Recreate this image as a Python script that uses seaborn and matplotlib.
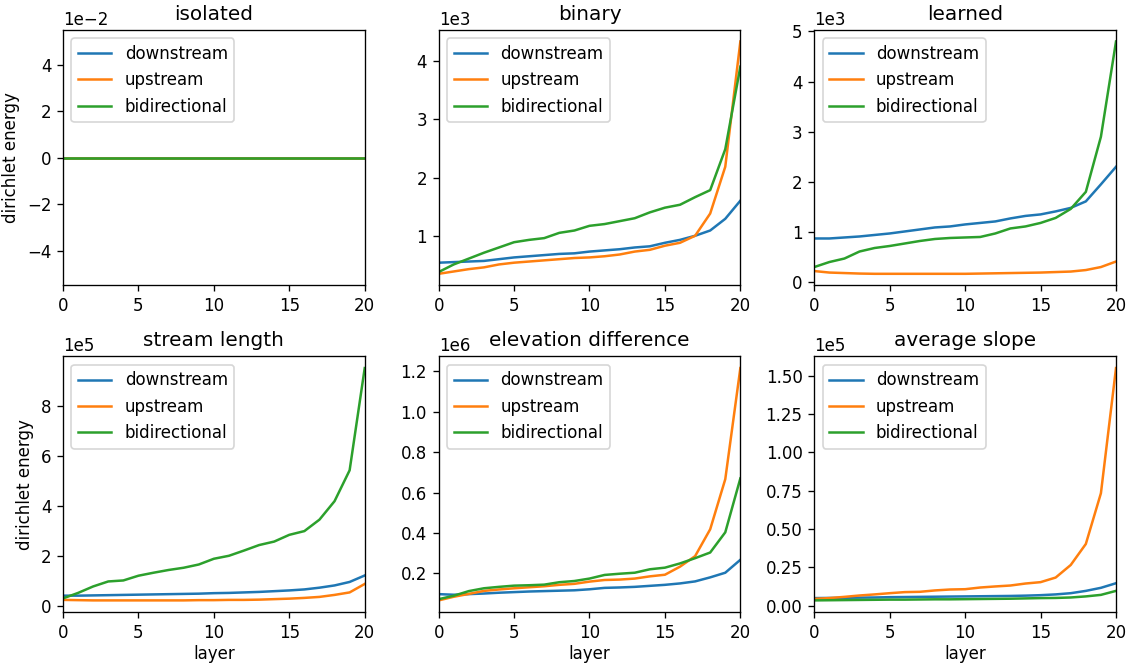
import numpy as np
import pandas as pd
import seaborn as sns
import matplotlib
matplotlib.use("Agg")
import matplotlib.pyplot as plt

layers = list(range(21))
directions = ["downstream", "upstream", "bidirectional"]
titles = ["isolated", "binary", "learned", "stream length", "elevation difference", "average slope"]
# every panel's values are written in the unit shown by its offset label
scales = [1e-2, 1e3, 1e3, 1e5, 1e6, 1e5]

isolated_down = [0.0] * 21
isolated_up = [0.0] * 21
isolated_bi = [0.0] * 21

binary_down = [0.55, 0.56, 0.57, 0.58, 0.61, 0.64, 0.66, 0.68, 0.70, 0.71, 0.74,
               0.76, 0.78, 0.81, 0.83, 0.89, 0.94, 1.01, 1.10, 1.30, 1.61]
binary_up = [0.36, 0.40, 0.44, 0.47, 0.52, 0.55, 0.57, 0.59, 0.61, 0.63, 0.64,
             0.66, 0.69, 0.74, 0.77, 0.84, 0.89, 1.01, 1.39, 2.19, 4.33]
binary_bi = [0.39, 0.52, 0.62, 0.72, 0.81, 0.90, 0.94, 0.97, 1.06, 1.10, 1.18,
             1.21, 1.26, 1.31, 1.41, 1.49, 1.54, 1.67, 1.79, 2.49, 3.90]

learned_down = [0.87, 0.87, 0.89, 0.91, 0.94, 0.97, 1.01, 1.05, 1.09, 1.11, 1.15,
                1.18, 1.21, 1.27, 1.32, 1.35, 1.41, 1.48, 1.61, 1.95, 2.30]
learned_up = [0.22, 0.19, 0.18, 0.17, 0.165, 0.165, 0.165, 0.165, 0.165, 0.165, 0.165,
              0.17, 0.175, 0.18, 0.185, 0.19, 0.20, 0.21, 0.24, 0.30, 0.41]
learned_bi = [0.30, 0.40, 0.47, 0.61, 0.68, 0.72, 0.77, 0.82, 0.86, 0.88, 0.89,
              0.90, 0.97, 1.07, 1.11, 1.18, 1.28, 1.46, 1.80, 2.90, 4.80]

length_down = [0.40, 0.40, 0.41, 0.42, 0.43, 0.44, 0.45, 0.46, 0.47, 0.48, 0.50,
               0.51, 0.53, 0.55, 0.58, 0.61, 0.65, 0.72, 0.81, 0.95, 1.21]
length_up = [0.23, 0.22, 0.21, 0.21, 0.21, 0.21, 0.21, 0.21, 0.21, 0.22, 0.22,
             0.23, 0.23, 0.24, 0.26, 0.28, 0.31, 0.35, 0.43, 0.53, 0.87]
length_bi = [0.29, 0.51, 0.77, 0.97, 1.01, 1.20, 1.32, 1.43, 1.52, 1.65, 1.88,
             2.00, 2.21, 2.43, 2.57, 2.84, 2.99, 3.45, 4.19, 5.43, 9.53]

elev_down = [0.097, 0.094, 0.097, 0.100, 0.104, 0.107, 0.110, 0.112, 0.114, 0.116, 0.121,
             0.128, 0.130, 0.133, 0.138, 0.143, 0.150, 0.160, 0.180, 0.203, 0.267]
elev_up = [0.066, 0.084, 0.098, 0.113, 0.120, 0.126, 0.131, 0.136, 0.143, 0.148, 0.159,
           0.167, 0.169, 0.174, 0.185, 0.193, 0.233, 0.285, 0.418, 0.666, 1.216]
elev_bi = [0.072, 0.089, 0.112, 0.126, 0.133, 0.139, 0.141, 0.144, 0.156, 0.162, 0.174,
           0.192, 0.198, 0.203, 0.220, 0.228, 0.249, 0.275, 0.303, 0.403, 0.670]

slope_down = [0.050, 0.051, 0.052, 0.053, 0.054, 0.056, 0.057, 0.058, 0.059, 0.060, 0.061,
              0.062, 0.063, 0.064, 0.066, 0.069, 0.074, 0.082, 0.097, 0.117, 0.147]
slope_up = [0.045, 0.050, 0.058, 0.067, 0.074, 0.082, 0.089, 0.091, 0.100, 0.106, 0.108,
            0.119, 0.126, 0.132, 0.145, 0.154, 0.184, 0.266, 0.403, 0.734, 1.550]
slope_bi = [0.035, 0.036, 0.037, 0.038, 0.039, 0.040, 0.040, 0.041, 0.042, 0.042, 0.043,
            0.044, 0.045, 0.046, 0.048, 0.050, 0.051, 0.054, 0.061, 0.071, 0.097]

panels = [
    (isolated_down, isolated_up, isolated_bi),
    (binary_down, binary_up, binary_bi),
    (learned_down, learned_up, learned_bi),
    (length_down, length_up, length_bi),
    (elev_down, elev_up, elev_bi),
    (slope_down, slope_up, slope_bi),
]

colors = ["#1f77b4", "#ff7f0e", "#2ca02c"]

fig, axes = plt.subplots(2, 3, figsize=(1133 / 120, 664 / 120), dpi=120)
plt.subplots_adjust(left=0.0556, right=0.985, top=0.955, bottom=0.0783,
                    wspace=0.245, hspace=0.278)

for i, ax in enumerate(axes.flat):
    rows = []
    for d, vals in zip(directions, panels[i]):
        for l, v in zip(layers, vals):
            rows.append({"layer": l, "energy": v * scales[i], "direction": d})
    df = pd.DataFrame(rows)
    sns.lineplot(data=df, x="layer", y="energy", hue="direction",
                 hue_order=directions, palette=colors, ax=ax, linewidth=1.5)
    ax.legend(loc="upper left")
    ax.set_title(titles[i], fontsize=12)
    ax.set_xlim(0, 20)
    ax.set_xticks([0, 5, 10, 15, 20])
    ax.ticklabel_format(axis="y", style="sci", scilimits=(0, 0))
    ax.set_xlabel("layer" if i >= 3 else "", labelpad=2)
    ax.set_ylabel("dirichlet energy" if i % 3 == 0 else "")

fig.savefig("out.png", dpi=120)
